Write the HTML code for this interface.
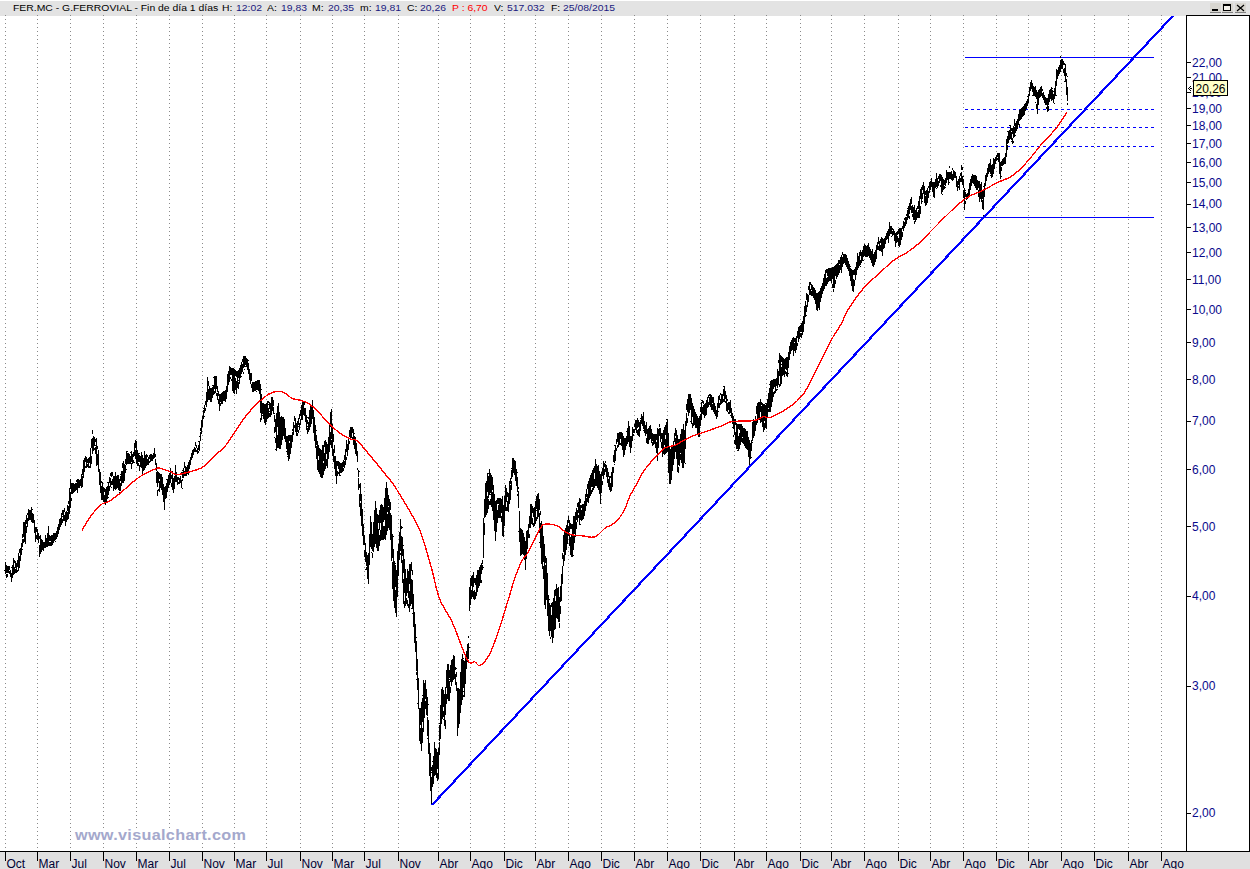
<!DOCTYPE html><html><head><meta charset="utf-8"><style>
html,body{margin:0;padding:0;width:1250px;height:869px;overflow:hidden;background:#fff;}
body{position:relative;font-family:"Liberation Sans",sans-serif;}
.t{position:absolute;white-space:nowrap;}
.n{color:#1a1a80}
</style></head><body>

<svg style="position:absolute;left:0;top:0" width="1250" height="869" viewBox="0 0 1250 869">
<defs><clipPath id="cp"><rect x="0" y="16" width="1186" height="835"/></clipPath></defs>
<rect x="0" y="1" width="1250" height="15" fill="#e3e3e3" shape-rendering="crispEdges"/>
<path d="M5.5 15V851M37.5 15V851M70.5 15V851M103.5 15V851M136.5 15V851M169.5 15V851M202.5 15V851M234.5 15V851M266.5 15V851M300.5 15V851M332.5 15V851M364.5 15V851M398.5 15V851M438.5 15V851M470.5 15V851M504.5 15V851M535.5 15V851M568.5 15V851M601.5 15V851M634.5 15V851M667.5 15V851M700.5 15V851M734.5 15V851M766.5 15V851M800.5 15V851M831.5 15V851M864.5 15V851M898.5 15V851M930.5 15V851M963.5 15V851M996.5 15V851M1028.5 15V851M1061.5 15V851M1094.5 15V851M1128.5 15V851M1161.5 15V851" stroke="#8a8a8a" stroke-width="1" stroke-dasharray="1 3" fill="none" shape-rendering="crispEdges"/>
<g shape-rendering="crispEdges">
<rect x="965" y="57" width="189" height="1" fill="#0000ff"/>
<rect x="965" y="217" width="189" height="1" fill="#0000ff"/>
<path d="M965 109.5H1154M965 127.5H1154M965 146.5H1154" stroke="#0000ff" stroke-width="1" stroke-dasharray="3 3" fill="none"/>
</g>
<g shape-rendering="crispEdges">
<path d="M5.5 562V574M6.5 565V578M7.5 566V577M8.5 566V573M9.5 566V574M10.5 570V577M11.5 573V582M12.5 565V578M13.5 558V575M14.5 560V574M15.5 561V573M16.5 563V573M17.5 560V572M18.5 553V571M19.5 549V568M20.5 548V561M21.5 543V554M22.5 534V547M23.5 522V543M24.5 522V541M25.5 520V544M26.5 515V533M27.5 513V527M28.5 509V521M29.5 511V520M30.5 510V520M31.5 507V522M32.5 513V523M33.5 514V523M34.5 520V533M35.5 527V542M36.5 527V539M37.5 529V540M38.5 533V543M39.5 536V557M40.5 535V554M41.5 539V552M42.5 540V550M43.5 542V551M44.5 542V548M45.5 535V548M46.5 538V547M47.5 533V547M48.5 526V546M49.5 535V546M50.5 536V546M51.5 535V546M52.5 535V545M53.5 533V543M54.5 533V541M55.5 533V540M56.5 531V539M57.5 527V537M58.5 524V534M59.5 519V530M60.5 518V527M61.5 513V525M62.5 510V523M63.5 510V521M64.5 508V521M65.5 512V526M66.5 511V522M67.5 505V520M68.5 501V519M69.5 488V514M70.5 479V508M71.5 484V501M72.5 483V494M73.5 483V493M74.5 484V492M75.5 483V491M76.5 480V490M77.5 479V493M78.5 479V488M79.5 480V488M80.5 479V486M81.5 474V488M82.5 469V487M83.5 460V478M84.5 458V472M85.5 456V468M86.5 457V468M87.5 459V467M88.5 458V468M89.5 457V468M90.5 448V468M91.5 439V464M92.5 430V454M93.5 436V451M94.5 437V450M95.5 439V454M96.5 438V466M97.5 446V465M98.5 450V472M99.5 469V485M100.5 472V493M101.5 481V500M102.5 482V500M103.5 487V502M104.5 488V503M105.5 489V505M106.5 487V502M107.5 486V499M108.5 482V495M109.5 477V491M110.5 473V487M111.5 472V485M112.5 472V485M113.5 476V491M114.5 476V489M115.5 472V490M116.5 476V489M117.5 475V488M118.5 475V490M119.5 479V494M120.5 476V491M121.5 471V486M122.5 463V483M123.5 461V483M124.5 464V481M125.5 459V473M126.5 451V465M127.5 453V464M128.5 453V464M129.5 454V464M130.5 456V464M131.5 451V469M132.5 454V464M133.5 452V463M134.5 443V456M135.5 440V459M136.5 441V464M137.5 450V466M138.5 453V466M139.5 455V471M140.5 456V467M141.5 452V468M142.5 455V476M143.5 458V471M144.5 451V470M145.5 455V468M146.5 454V466M147.5 455V465M148.5 457V465M149.5 455V463M150.5 454V462M151.5 454V461M152.5 455V461M153.5 453V459M154.5 448V458M155.5 454V465M156.5 463V483M157.5 471V496M158.5 472V491M159.5 473V492M160.5 474V488M161.5 474V490M162.5 478V495M163.5 484V502M164.5 487V510M165.5 486V499M166.5 483V497M167.5 479V492M168.5 475V488M169.5 473V484M170.5 468V483M171.5 475V487M172.5 471V490M173.5 479V493M174.5 476V489M175.5 465V482M176.5 472V482M177.5 477V484M178.5 477V484M179.5 478V484M180.5 476V483M181.5 472V488M182.5 472V481M183.5 468V478M184.5 462V476M185.5 466V476M186.5 467V476M187.5 465V474M188.5 462V475M189.5 460V469M190.5 457V465M191.5 453V460M192.5 450V457M193.5 449V455M194.5 447V452M195.5 442V452M196.5 445V452M197.5 448V454M198.5 445V453M199.5 441V451M200.5 428V441M201.5 420V434M202.5 416V427M203.5 410V419M204.5 405V413M205.5 401V411M206.5 392V407M207.5 377V402M208.5 381V400M209.5 386V400M210.5 388V402M211.5 388V402M212.5 387V398M213.5 385V395M214.5 376V394M215.5 376V393M216.5 376V396M217.5 386V400M218.5 391V404M219.5 394V411M220.5 394V406M221.5 393V404M222.5 392V404M223.5 391V401M224.5 391V401M225.5 390V402M226.5 386V399M227.5 374V392M228.5 371V385M229.5 366V382M230.5 367V379M231.5 368V381M232.5 368V391M233.5 368V393M234.5 369V394M235.5 370V390M236.5 371V394M237.5 371V388M238.5 370V389M239.5 368V384M240.5 365V378M241.5 362V374M242.5 359V372M243.5 356V374M244.5 356V367M245.5 356V365M246.5 358V367M247.5 359V370M248.5 363V374M249.5 369V380M250.5 374V384M251.5 373V388M252.5 382V392M253.5 382V392M254.5 382V391M255.5 381V391M256.5 381V390M257.5 380V390M258.5 380V391M259.5 380V394M260.5 384V422M261.5 394V420M262.5 403V414M263.5 403V419M264.5 404V423M265.5 404V425M266.5 403V422M267.5 401V419M268.5 401V418M269.5 402V417M270.5 403V417M271.5 397V415M272.5 397V411M273.5 400V414M274.5 415V433M275.5 419V443M276.5 413V451M277.5 406V448M278.5 403V448M279.5 412V449M280.5 417V449M281.5 416V445M282.5 417V440M283.5 417V436M284.5 419V439M285.5 428V442M286.5 436V449M287.5 436V455M288.5 435V461M289.5 435V459M290.5 435V454M291.5 435V448M292.5 429V442M293.5 422V435M294.5 416V428M295.5 418V432M296.5 423V436M297.5 421V436M298.5 418V433M299.5 414V430M300.5 410V425M301.5 405V420M302.5 400V420M303.5 401V415M304.5 402V416M305.5 408V422M306.5 415V430M307.5 420V434M308.5 417V432M309.5 410V430M310.5 407V427M311.5 406V424M312.5 400V419M313.5 410V433M314.5 417V441M315.5 425V448M316.5 435V459M317.5 441V470M318.5 445V472M319.5 448V474M320.5 449V476M321.5 450V478M322.5 445V478M323.5 445V475M324.5 441V471M325.5 440V469M326.5 442V466M327.5 444V468M328.5 437V459M329.5 425V452M330.5 412V445M331.5 409V448M332.5 424V456M333.5 434V462M334.5 445V469M335.5 456V476M336.5 461V484M337.5 461V476M338.5 461V474M339.5 462V476M340.5 463V473M341.5 463V473M342.5 462V472M343.5 460V471M344.5 455V468M345.5 449V465M346.5 440V460M347.5 444V456M348.5 439V450M349.5 430V444M350.5 427V440M351.5 427V438M352.5 427V440M353.5 429V444M354.5 436V449M355.5 437V454M356.5 443V456M357.5 451V470M358.5 471V490M359.5 484V507M360.5 483V516M361.5 494V526M362.5 509V536M363.5 524V545M364.5 535V557M365.5 543V562M366.5 552V570M367.5 555V579M368.5 553V584M369.5 534V565M370.5 516V547M371.5 522V549M372.5 534V558M373.5 522V552M374.5 510V547M375.5 501V544M376.5 508V548M377.5 514V551M378.5 515V551M379.5 510V546M380.5 505V541M381.5 504V540M382.5 505V540M383.5 507V540M384.5 498V539M385.5 488V540M386.5 482V535M387.5 488V531M388.5 495V528M389.5 499V530M390.5 502V540M391.5 515V561M392.5 534V589M393.5 549V601M394.5 561V608M395.5 565V613M396.5 570V617M397.5 551V597M398.5 544V576M399.5 532V560M400.5 519V555M401.5 526V563M402.5 537V583M403.5 549V604M404.5 559V608M405.5 569V606M406.5 578V604M407.5 569V606M408.5 571V608M409.5 564V612M410.5 564V606M411.5 562V604M412.5 570V609M413.5 594V627M414.5 612V643M415.5 624V652M416.5 641V675M417.5 659V690M418.5 678V709M419.5 708V741M420.5 708V744M421.5 702V751M422.5 698V743M423.5 680V732M424.5 683V718M425.5 680V709M426.5 689V715M427.5 697V736M428.5 720V754M429.5 743V776M430.5 753V791M431.5 767V804M432.5 765V787M433.5 756V784M434.5 742V776M435.5 748V775M436.5 749V778M437.5 752V781M438.5 748V779M439.5 725V755M440.5 705V739M441.5 689V724M442.5 687V719M443.5 690V717M444.5 694V726M445.5 687V729M446.5 670V704M447.5 664V699M448.5 664V701M449.5 670V701M450.5 665V693M451.5 660V686M452.5 659V682M453.5 655V680M454.5 656V679M455.5 667V685M456.5 672V691M457.5 688V736M458.5 688V728M459.5 689V724M460.5 672V713M461.5 659V705M462.5 654V700M463.5 660V697M464.5 661V697M465.5 656V684M466.5 651V669M467.5 644V662M468.5 636V659M469.5 587V611M470.5 578V605M471.5 576V599M472.5 575V597M473.5 572V599M474.5 578V600M475.5 578V599M476.5 575V596M477.5 570V592M478.5 570V588M479.5 567V586M480.5 565V583M481.5 563V583M482.5 560V570M483.5 518V558M484.5 499V535M485.5 483V517M486.5 481V515M487.5 473V513M488.5 476V509M489.5 469V505M490.5 473V505M491.5 475V507M492.5 477V511M493.5 485V520M494.5 494V531M495.5 501V541M496.5 500V532M497.5 498V523M498.5 498V518M499.5 498V518M500.5 498V518M501.5 499V522M502.5 496V536M503.5 505V537M504.5 496V526M505.5 485V511M506.5 488V511M507.5 492V511M508.5 493V512M509.5 481V504M510.5 478V500M511.5 470V490M512.5 458V477M513.5 458V473M514.5 460V475M515.5 461V481M516.5 469V486M517.5 477V496M518.5 487V508M519.5 511V542M520.5 528V556M521.5 529V555M522.5 530V554M523.5 533V555M524.5 537V560M525.5 541V570M526.5 531V559M527.5 530V549M528.5 524V538M529.5 516V538M530.5 504V528M531.5 504V524M532.5 506V525M533.5 508V527M534.5 507V526M535.5 501V524M536.5 496V521M537.5 494V519M538.5 493V517M539.5 499V533M540.5 511V548M541.5 521V564M542.5 526V569M543.5 536V579M544.5 544V605M545.5 556V609M546.5 558V600M547.5 573V616M548.5 595V631M549.5 603V636M550.5 605V639M551.5 603V637M552.5 602V643M553.5 598V638M554.5 590V630M555.5 589V629M556.5 584V618M557.5 588V619M558.5 587V622M559.5 597V628M560.5 586V614M561.5 574V601M562.5 554V584M563.5 535V566M564.5 531V561M565.5 528V555M566.5 525V550M567.5 520V544M568.5 516V536M569.5 520V546M570.5 523V555M571.5 524V557M572.5 524V557M573.5 516V550M574.5 516V543M575.5 512V537M576.5 508V529M577.5 504V522M578.5 502V518M579.5 498V525M580.5 499V520M581.5 505V521M582.5 504V520M583.5 504V519M584.5 501V516M585.5 494V511M586.5 489V506M587.5 484V502M588.5 481V503M589.5 478V498M590.5 475V496M591.5 473V494M592.5 470V492M593.5 468V490M594.5 466V488M595.5 459V486M596.5 464V486M597.5 466V488M598.5 465V490M599.5 471V494M600.5 474V504M601.5 472V493M602.5 468V485M603.5 461V479M604.5 463V475M605.5 461V472M606.5 465V477M607.5 468V483M608.5 472V487M609.5 476V490M610.5 476V492M611.5 472V491M612.5 467V487M613.5 455V473M614.5 450V463M615.5 445V461M616.5 439V451M617.5 433V448M618.5 433V447M619.5 432V445M620.5 432V445M621.5 432V446M622.5 433V450M623.5 436V457M624.5 438V455M625.5 438V450M626.5 436V446M627.5 428V444M628.5 421V442M629.5 426V447M630.5 436V453M631.5 436V448M632.5 427V441M633.5 429V436M634.5 424V433M635.5 420V430M636.5 420V433M637.5 418V435M638.5 420V436M639.5 422V437M640.5 420V431M641.5 414V424M642.5 416V426M643.5 412V429M644.5 421V433M645.5 425V436M646.5 422V443M647.5 429V444M648.5 428V444M649.5 426V440M650.5 425V439M651.5 429V443M652.5 433V446M653.5 434V445M654.5 434V444M655.5 434V448M656.5 434V453M657.5 428V461M658.5 429V448M659.5 424V436M660.5 428V442M661.5 433V448M662.5 433V457M663.5 430V454M664.5 427V455M665.5 425V454M666.5 422V453M667.5 419V452M668.5 433V473M669.5 447V484M670.5 449V484M671.5 447V480M672.5 445V471M673.5 441V465M674.5 433V459M675.5 428V452M676.5 430V459M677.5 435V472M678.5 439V473M679.5 439V466M680.5 434V460M681.5 429V463M682.5 429V468M683.5 424V468M684.5 430V463M685.5 421V449M686.5 404V426M687.5 399V422M688.5 394V416M689.5 394V413M690.5 394V410M691.5 399V424M692.5 403V428M693.5 406V426M694.5 409V425M695.5 412V428M696.5 414V428M697.5 416V435M698.5 418V437M699.5 416V437M700.5 407V426M701.5 402V420M702.5 400V414M703.5 401V415M704.5 404V418M705.5 403V416M706.5 400V415M707.5 397V408M708.5 395V407M709.5 394V405M710.5 394V407M711.5 395V410M712.5 397V410M713.5 397V412M714.5 403V414M715.5 406V416M716.5 410V419M717.5 403V417M718.5 396V408M719.5 395V408M720.5 393V405M721.5 394V404M722.5 394V403M723.5 389V402M724.5 386V402M725.5 391V403M726.5 395V410M727.5 399V412M728.5 402V414M729.5 402V413M730.5 400V413M731.5 408V418M732.5 413V424M733.5 416V437M734.5 419V444M735.5 419V445M736.5 423V449M737.5 424V449M738.5 424V451M739.5 424V449M740.5 424V445M741.5 424V442M742.5 426V443M743.5 428V444M744.5 428V446M745.5 429V448M746.5 431V449M747.5 431V450M748.5 437V456M749.5 440V466M750.5 443V459M751.5 440V451M752.5 422V441M753.5 419V438M754.5 420V436M755.5 416V431M756.5 406V425M757.5 403V423M758.5 402V420M759.5 402V420M760.5 399V423M761.5 402V422M762.5 403V427M763.5 404V432M764.5 404V430M765.5 405V428M766.5 403V429M767.5 399V417M768.5 394V412M769.5 388V412M770.5 381V412M771.5 380V407M772.5 380V402M773.5 379V397M774.5 379V394M775.5 379V393M776.5 378V391M777.5 369V388M778.5 360V385M779.5 353V387M780.5 355V386M781.5 356V384M782.5 357V376M783.5 358V375M784.5 359V377M785.5 358V374M786.5 357V376M787.5 357V377M788.5 352V368M789.5 346V360M790.5 342V354M791.5 340V351M792.5 338V350M793.5 337V356M794.5 338V351M795.5 338V353M796.5 336V350M797.5 331V346M798.5 327V342M799.5 326V339M800.5 325V337M801.5 323V338M802.5 321V335M803.5 316V332M804.5 306V324M805.5 301V317M806.5 293V312M807.5 294V307M808.5 286V301M809.5 282V295M810.5 282V295M811.5 284V295M812.5 285V296M813.5 287V298M814.5 288V300M815.5 290V304M816.5 293V310M817.5 294V311M818.5 292V308M819.5 291V310M820.5 288V302M821.5 286V298M822.5 283V294M823.5 278V291M824.5 274V289M825.5 270V286M826.5 269V285M827.5 269V284M828.5 268V282M829.5 268V281M830.5 268V280M831.5 268V283M832.5 267V288M833.5 267V292M834.5 266V288M835.5 265V283M836.5 264V279M837.5 263V277M838.5 260V275M839.5 260V273M840.5 257V270M841.5 255V273M842.5 252V267M843.5 254V264M844.5 254V263M845.5 254V265M846.5 255V267M847.5 258V269M848.5 261V271M849.5 264V276M850.5 268V281M851.5 269V286M852.5 270V291M853.5 270V292M854.5 269V286M855.5 267V280M856.5 262V275M857.5 253V270M858.5 256V268M859.5 252V266M860.5 250V265M861.5 252V263M862.5 250V260M863.5 246V257M864.5 244V256M865.5 245V257M866.5 246V257M867.5 245V257M868.5 243V256M869.5 247V258M870.5 249V260M871.5 251V263M872.5 249V266M873.5 254V267M874.5 252V265M875.5 250V262M876.5 245V259M877.5 242V250M878.5 237V250M879.5 241V251M880.5 239V251M881.5 237V252M882.5 238V256M883.5 239V249M884.5 239V248M885.5 236V243M886.5 233V240M887.5 231V239M888.5 229V243M889.5 222V236M890.5 226V234M891.5 226V234M892.5 228V236M893.5 229V235M894.5 231V240M895.5 233V247M896.5 232V243M897.5 231V242M898.5 229V246M899.5 228V247M900.5 228V244M901.5 229V240M902.5 226V237M903.5 221V231M904.5 218V228M905.5 217V226M906.5 214V224M907.5 210V220M908.5 206V217M909.5 203V219M910.5 199V210M911.5 197V213M912.5 205V217M913.5 207V220M914.5 205V224M915.5 210V222M916.5 208V220M917.5 206V218M918.5 201V218M919.5 196V218M920.5 189V214M921.5 187V204M922.5 185V199M923.5 182V194M924.5 186V202M925.5 191V206M926.5 190V205M927.5 188V203M928.5 186V198M929.5 183V193M930.5 181V190M931.5 178V187M932.5 182V192M933.5 182V197M934.5 182V198M935.5 179V188M936.5 173V187M937.5 178V188M938.5 176V186M939.5 174V183M940.5 174V187M941.5 175V194M942.5 177V192M943.5 179V190M944.5 180V189M945.5 178V186M946.5 170V183M947.5 172V180M948.5 172V185M949.5 166V179M950.5 172V179M951.5 171V180M952.5 168V180M953.5 170V180M954.5 171V178M955.5 172V178M956.5 176V187M957.5 181V191M958.5 179V188M959.5 176V190M960.5 173V182M961.5 165V182M962.5 167V185M963.5 179V198M964.5 188V210M965.5 192V204M966.5 194V200M967.5 193V199M968.5 189V197M969.5 183V195M970.5 179V190M971.5 176V186M972.5 174V183M973.5 175V184M974.5 175V186M975.5 175V188M976.5 176V190M977.5 180V190M978.5 181V196M979.5 181V202M980.5 184V199M981.5 182V202M982.5 190V209M983.5 191V217M984.5 183V197M985.5 175V186M986.5 173V181M987.5 168V177M988.5 164V174M989.5 163V172M990.5 159V174M991.5 165V178M992.5 164V177M993.5 158V174M994.5 159V169M995.5 157V164M996.5 155V161M997.5 153V160M998.5 154V162M999.5 153V174M1000.5 162V179M1001.5 161V171M1002.5 159V166M1003.5 158V165M1004.5 157V164M1005.5 153V164M1006.5 139V157M1007.5 136V150M1008.5 131V143M1009.5 130V140M1010.5 125V139M1011.5 128V140M1012.5 128V144M1013.5 126V143M1014.5 119V137M1015.5 123V133M1016.5 121V131M1017.5 119V129M1018.5 114V125M1019.5 110V127M1020.5 109V120M1021.5 108V119M1022.5 107V117M1023.5 106V116M1024.5 105V114M1025.5 103V111M1026.5 101V109M1027.5 99V106M1028.5 94V103M1029.5 87V96M1030.5 82V91M1031.5 80V89M1032.5 83V92M1033.5 87V96M1034.5 87V96M1035.5 86V97M1036.5 90V109M1037.5 92V114M1038.5 91V105M1039.5 89V98M1040.5 87V97M1041.5 86V96M1042.5 89V98M1043.5 92V100M1044.5 95V103M1045.5 97V105M1046.5 98V109M1047.5 98V112M1048.5 94V111M1049.5 90V102M1050.5 89V99M1051.5 87V101M1052.5 90V100M1053.5 94V103M1054.5 88V99M1055.5 81V96M1056.5 69V86M1057.5 70V79M1058.5 67V76M1059.5 65V74M1060.5 56V72M1061.5 59V69M1062.5 59V69M1063.5 61V73M1064.5 63V76M1065.5 64V82M1066.5 73V95M1067.5 87V105" stroke="#000" stroke-width="1" fill="none"/>
<path d="M6.5 573V574M7.5 573V574M9.5 570V571M14.5 563V567M15.5 568V569M17.5 567V570M19.5 553V556M22.5 538V539M23.5 537V539M26.5 524V526M27.5 515V518M36.5 532V535M39.5 539V545M49.5 541V542M50.5 541V542M62.5 515V519M64.5 512V515M67.5 511V512M68.5 504V506M70.5 489V492M71.5 494V498M76.5 482V483M82.5 475V476M85.5 462V466M87.5 463V464M88.5 465V466M89.5 463V466M91.5 448V456M92.5 434V438M94.5 446V448M95.5 442V447M97.5 449V454M101.5 483V486M104.5 492V495M109.5 483V486M110.5 476V478M111.5 477V481M112.5 476V479M119.5 491V492M120.5 481V483M122.5 468V471M125.5 464V465M131.5 462V463M133.5 457V460M135.5 448V450M138.5 462V463M139.5 462V465M147.5 457V459M149.5 459V461M155.5 457V459M156.5 471V472M157.5 487V490M158.5 483V489M159.5 479V481M171.5 479V483M178.5 480V482M181.5 475V480M182.5 478V479M184.5 468V471M195.5 446V448M196.5 448V450M198.5 449V451M200.5 431V432M205.5 405V408M208.5 386V389M214.5 389V391M216.5 388V393M217.5 392V393M218.5 396V399M220.5 402V403M222.5 394V395M230.5 375V377M231.5 375V379M235.5 376V378M236.5 377V381M238.5 378V382M242.5 362V364M243.5 368V372M251.5 381V384M260.5 413V418M268.5 403V408M269.5 409V413M270.5 410V411M273.5 406V407M274.5 422V427M275.5 432V438M277.5 427V435M289.5 441V443M292.5 431V432M294.5 421V425M297.5 432V433M298.5 425V430M299.5 419V423M300.5 416V419M304.5 405V408M307.5 424V428M308.5 419V422M316.5 445V446M318.5 456V460M323.5 461V463M324.5 447V453M326.5 454V459M330.5 427V432M331.5 439V440M333.5 442V449M334.5 453V456M337.5 466V471M338.5 469V472M343.5 467V468M344.5 460V461M346.5 452V457M349.5 437V441M352.5 433V437M357.5 462V468M358.5 477V478M359.5 488V494M360.5 501V503M364.5 545V550M366.5 566V567M372.5 551V553M378.5 523V529M379.5 530V535M380.5 523V530M383.5 522V526M384.5 520V526M387.5 512V514M388.5 506V507M390.5 510V513M392.5 558V562M395.5 587V590M400.5 551V553M401.5 529V536M402.5 556V560M403.5 573V579M404.5 593V601M406.5 596V598M407.5 593V600M408.5 598V604M409.5 584V591M411.5 571V579M412.5 575V580M416.5 671V672M420.5 725V728M422.5 722V728M425.5 699V701M427.5 716V717M431.5 771V777M437.5 769V773M439.5 741V742M443.5 707V711M445.5 715V720M446.5 688V694M449.5 678V681M450.5 682V687M455.5 670V674M456.5 677V682M463.5 688V695M468.5 638V643M471.5 586V590M473.5 587V591M474.5 583V590M475.5 585V592M481.5 574V580M482.5 564V565M484.5 518V523M487.5 492V496M488.5 498V499M489.5 495V501M490.5 493V499M492.5 490V492M497.5 504V510M498.5 504V505M501.5 513V516M506.5 502V507M507.5 497V501M510.5 484V485M511.5 479V481M517.5 492V494M518.5 489V491M529.5 528V534M532.5 513V518M533.5 517V523M536.5 509V517M539.5 510V513M540.5 515V523M543.5 562V566M545.5 563V565M550.5 631V637M551.5 607V615M555.5 596V601M559.5 622V623M560.5 602V606M562.5 559V566M563.5 552V555M565.5 531V533M568.5 523V526M569.5 532V533M570.5 529V537M571.5 529V535M574.5 533V536M576.5 520V522M577.5 507V510M578.5 513V515M580.5 503V505M581.5 508V510M586.5 497V498M587.5 489V494M591.5 487V490M592.5 487V488M594.5 473V479M602.5 476V481M604.5 467V469M605.5 463V465M608.5 477V479M610.5 478V483M613.5 462V467M616.5 444V448M617.5 442V445M620.5 439V443M633.5 433V434M634.5 427V429M637.5 428V430M638.5 427V429M646.5 434V438M652.5 441V442M656.5 440V442M659.5 427V428M661.5 439V442M664.5 445V447M665.5 435V439M674.5 442V446M675.5 436V438M678.5 465V467M680.5 453V454M686.5 410V413M687.5 412V418M692.5 417V423M700.5 412V414M702.5 403V407M703.5 404V406M708.5 398V402M709.5 396V397M712.5 403V404M714.5 411V412M719.5 400V403M720.5 395V399M723.5 396V399M725.5 399V401M727.5 401V403M728.5 410V412M733.5 429V435M734.5 435V440M735.5 425V432M738.5 429V436M739.5 430V433M742.5 437V438M756.5 414V419M760.5 412V419M761.5 405V406M764.5 421V423M768.5 407V409M773.5 389V392M774.5 386V391M775.5 390V391M776.5 386V389M778.5 363V371M779.5 376V384M781.5 362V367M785.5 369V371M786.5 370V372M794.5 342V343M797.5 338V343M800.5 332V333M801.5 332V333M806.5 300V305M808.5 290V295M809.5 287V288M810.5 285V289M811.5 290V291M826.5 273V278M827.5 276V277M832.5 279V284M833.5 288V289M835.5 276V280M839.5 264V265M842.5 255V257M853.5 275V279M854.5 275V280M860.5 256V260M878.5 244V246M880.5 243V245M892.5 230V231M897.5 235V236M898.5 234V238M902.5 229V232M904.5 220V222M906.5 216V217M909.5 214V216M911.5 204V206M912.5 213V214M914.5 220V221M917.5 209V212M918.5 209V210M920.5 199V206M922.5 190V193M925.5 195V196M928.5 188V191M938.5 179V181M940.5 181V185M944.5 185V186M949.5 168V172M950.5 176V177M952.5 170V174M958.5 184V186M960.5 175V178M961.5 170V172M962.5 170V176M963.5 188V190M964.5 199V200M965.5 197V201M978.5 188V190M982.5 199V200M983.5 210V215M997.5 157V158M1001.5 166V167M1007.5 144V145M1011.5 131V132M1012.5 134V138M1013.5 138V141M1014.5 126V127M1019.5 121V124M1036.5 99V104M1042.5 91V94M1046.5 105V107M1048.5 105V106M1060.5 58V60M1063.5 65V69M1064.5 65V68M1066.5 76V79M1067.5 101V103" stroke="#fff" stroke-width="1" fill="none"/>
<path d="M4 570.5h1M5 568.5h1M8 568.5h1M9 571.5h1M11 567.5h1M16 566.5h1M18 570.5h1M19 567.5h1M21 554.5h1M22 549.5h1M21 544.5h1M24 541.5h1M26 532.5h1M25 525.5h1M28 516.5h1M29 510.5h1M30 512.5h1M31 513.5h1M32 509.5h1M33 521.5h1M36 530.5h1M41 540.5h1M44 544.5h1M43 543.5h1M45 542.5h1M46 539.5h1M49 542.5h1M48 542.5h1M50 536.5h1M51 543.5h1M55 541.5h1M55 538.5h1M59 526.5h1M62 516.5h1M63 520.5h1M67 518.5h1M69 504.5h1M71 485.5h1M71 483.5h1M74 486.5h1M77 484.5h1M79 481.5h1M79 484.5h1M80 482.5h1M81 476.5h1M83 465.5h1M84 464.5h1M89 461.5h1M88 465.5h1M93 440.5h1M92 451.5h1M95 445.5h1M96 441.5h1M97 446.5h1M98 462.5h1M98 469.5h1M102 491.5h1M101 493.5h1M104 500.5h1M105 496.5h1M108 497.5h1M107 482.5h1M110 480.5h1M111 487.5h1M110 475.5h1M115 485.5h1M115 480.5h1M118 484.5h1M119 489.5h1M121 477.5h1M120 474.5h1M123 471.5h1M126 469.5h1M127 451.5h1M126 457.5h1M130 463.5h1M130 452.5h1M131 455.5h1M134 462.5h1M135 444.5h1M136 449.5h1M136 463.5h1M139 453.5h1M141 460.5h1M142 465.5h1M145 458.5h1M144 463.5h1M152 458.5h1M153 456.5h1M154 456.5h1M158 479.5h1M162 477.5h1M163 500.5h1M166 497.5h1M166 479.5h1M169 484.5h1M168 475.5h1M172 485.5h1M173 478.5h1M174 479.5h1M173 487.5h1M178 483.5h1M177 484.5h1M180 480.5h1M182 488.5h1M182 470.5h1M186 475.5h1M185 473.5h1M186 469.5h1M187 470.5h1M189 462.5h1M192 457.5h1M194 451.5h1M193 450.5h1M194 447.5h1M195 445.5h1M198 449.5h1M198 441.5h1M199 436.5h1M201 426.5h1M204 416.5h1M203 408.5h1M210 392.5h1M210 396.5h1M211 391.5h1M212 385.5h1M213 377.5h1M215 388.5h1M216 388.5h1M219 396.5h1M219 402.5h1M222 394.5h1M223 393.5h1M224 399.5h1M227 391.5h1M228 374.5h1M227 377.5h1M238 374.5h1M238 380.5h1M241 376.5h1M243 364.5h1M244 369.5h1M245 366.5h1M248 360.5h1M250 373.5h1M251 386.5h1M254 385.5h1M255 385.5h1M256 391.5h1M257 388.5h1M260 387.5h1M261 389.5h1M260 394.5h1M261 405.5h1M262 415.5h1M265 421.5h1M265 410.5h1M269 411.5h1M268 404.5h1M270 410.5h1M271 405.5h1M274 413.5h1M274 437.5h1M275 449.5h1M280 445.5h1M283 425.5h1M284 429.5h1M286 451.5h1M287 456.5h1M288 443.5h1M289 439.5h1M291 439.5h1M298 426.5h1M301 411.5h1M302 413.5h1M303 407.5h1M302 405.5h1M305 411.5h1M304 411.5h1M307 426.5h1M307 417.5h1M310 418.5h1M310 406.5h1M316 430.5h1M318 466.5h1M317 459.5h1M318 460.5h1M320 476.5h1M321 473.5h1M323 464.5h1M326 444.5h1M326 460.5h1M327 446.5h1M332 439.5h1M340 475.5h1M339 468.5h1M340 468.5h1M342 468.5h1M345 456.5h1M348 445.5h1M347 445.5h1M348 443.5h1M354 433.5h1M353 444.5h1M356 450.5h1M358 470.5h1M359 471.5h1M360 503.5h1M361 501.5h1M361 521.5h1M364 539.5h1M365 553.5h1M366 553.5h1M365 569.5h1M368 569.5h1M370 546.5h1M371 552.5h1M374 521.5h1M377 519.5h1M378 535.5h1M382 526.5h1M383 528.5h1M384 535.5h1M385 502.5h1M385 500.5h1M386 528.5h1M387 501.5h1M388 516.5h1M389 506.5h1M390 518.5h1M393 536.5h1M394 561.5h1M395 563.5h1M396 594.5h1M398 570.5h1M397 555.5h1M400 549.5h1M399 541.5h1M402 527.5h1M403 545.5h1M404 574.5h1M403 587.5h1M404 592.5h1M407 586.5h1M406 580.5h1M407 590.5h1M408 593.5h1M411 608.5h1M412 613.5h1M416 637.5h1M416 679.5h1M417 703.5h1M420 740.5h1M420 712.5h1M423 710.5h1M422 695.5h1M423 702.5h1M424 685.5h1M428 704.5h1M427 738.5h1M431 784.5h1M431 772.5h1M432 761.5h1M435 753.5h1M436 774.5h1M436 775.5h1M437 762.5h1M440 731.5h1M439 723.5h1M440 717.5h1M441 705.5h1M444 700.5h1M443 719.5h1M447 697.5h1M448 677.5h1M449 679.5h1M456 668.5h1M455 675.5h1M457 709.5h1M460 711.5h1M459 710.5h1M463 658.5h1M464 676.5h1M463 691.5h1M468 655.5h1M469 647.5h1M470 597.5h1M472 584.5h1M477 587.5h1M480 573.5h1M483 567.5h1M485 509.5h1M484 501.5h1M488 473.5h1M487 497.5h1M490 494.5h1M492 506.5h1M497 515.5h1M498 502.5h1M499 509.5h1M500 509.5h1M505 496.5h1M506 498.5h1M505 496.5h1M508 511.5h1M511 468.5h1M512 462.5h1M513 470.5h1M514 461.5h1M517 472.5h1M517 489.5h1M518 531.5h1M522 539.5h1M524 549.5h1M527 552.5h1M529 537.5h1M532 522.5h1M531 522.5h1M534 509.5h1M535 511.5h1M536 510.5h1M537 516.5h1M538 498.5h1M539 505.5h1M539 542.5h1M543 544.5h1M549 599.5h1M549 634.5h1M553 623.5h1M553 611.5h1M556 605.5h1M555 603.5h1M556 600.5h1M560 601.5h1M559 608.5h1M561 581.5h1M562 553.5h1M566 549.5h1M568 527.5h1M567 522.5h1M570 540.5h1M573 555.5h1M574 533.5h1M573 540.5h1M576 512.5h1M575 523.5h1M577 503.5h1M580 524.5h1M581 519.5h1M580 513.5h1M583 512.5h1M583 504.5h1M584 501.5h1M585 505.5h1M586 500.5h1M587 500.5h1M588 483.5h1M589 482.5h1M590 479.5h1M593 486.5h1M592 488.5h1M595 481.5h1M597 484.5h1M599 483.5h1M600 474.5h1M605 464.5h1M605 468.5h1M609 484.5h1M609 481.5h1M610 483.5h1M614 464.5h1M614 445.5h1M615 447.5h1M616 441.5h1M621 442.5h1M623 450.5h1M622 445.5h1M624 445.5h1M626 431.5h1M629 426.5h1M630 447.5h1M630 448.5h1M637 426.5h1M639 430.5h1M640 418.5h1M643 430.5h1M646 426.5h1M646 430.5h1M649 438.5h1M650 434.5h1M653 442.5h1M653 441.5h1M658 430.5h1M661 436.5h1M662 438.5h1M661 436.5h1M664 440.5h1M665 443.5h1M665 449.5h1M666 419.5h1M669 453.5h1M669 455.5h1M670 475.5h1M671 465.5h1M673 451.5h1M680 455.5h1M681 429.5h1M682 465.5h1M685 463.5h1M687 422.5h1M691 398.5h1M690 421.5h1M691 417.5h1M693 416.5h1M694 422.5h1M696 418.5h1M701 407.5h1M701 400.5h1M704 412.5h1M703 405.5h1M706 407.5h1M709 398.5h1M710 403.5h1M714 405.5h1M713 409.5h1M714 411.5h1M717 416.5h1M718 411.5h1M718 400.5h1M719 399.5h1M722 395.5h1M723 386.5h1M724 400.5h1M726 410.5h1M729 413.5h1M731 411.5h1M730 415.5h1M732 427.5h1M735 436.5h1M737 430.5h1M736 442.5h1M737 450.5h1M740 440.5h1M741 427.5h1M744 435.5h1M745 429.5h1M744 439.5h1M748 438.5h1M748 456.5h1M751 457.5h1M752 442.5h1M753 425.5h1M753 428.5h1M756 410.5h1M761 407.5h1M761 418.5h1M764 408.5h1M763 422.5h1M765 403.5h1M768 407.5h1M769 410.5h1M768 393.5h1M769 384.5h1M771 389.5h1M772 384.5h1M775 390.5h1M774 386.5h1M777 389.5h1M779 360.5h1M780 378.5h1M781 364.5h1M784 365.5h1M785 372.5h1M788 373.5h1M791 342.5h1M792 345.5h1M791 342.5h1M794 347.5h1M795 350.5h1M803 317.5h1M806 315.5h1M808 301.5h1M810 293.5h1M809 287.5h1M811 295.5h1M812 287.5h1M815 298.5h1M814 294.5h1M817 293.5h1M816 301.5h1M821 288.5h1M820 292.5h1M821 289.5h1M824 284.5h1M823 284.5h1M826 285.5h1M825 276.5h1M830 280.5h1M831 274.5h1M832 272.5h1M833 272.5h1M834 282.5h1M835 283.5h1M835 275.5h1M838 274.5h1M837 269.5h1M838 261.5h1M840 264.5h1M841 255.5h1M844 255.5h1M843 254.5h1M846 265.5h1M850 266.5h1M852 275.5h1M852 276.5h1M857 268.5h1M860 266.5h1M861 258.5h1M862 260.5h1M863 260.5h1M862 257.5h1M865 246.5h1M867 245.5h1M870 250.5h1M871 251.5h1M870 258.5h1M873 258.5h1M877 247.5h1M880 246.5h1M881 242.5h1M880 250.5h1M881 245.5h1M885 243.5h1M884 238.5h1M885 236.5h1M888 237.5h1M888 235.5h1M892 231.5h1M891 236.5h1M892 229.5h1M894 240.5h1M895 240.5h1M896 236.5h1M900 244.5h1M901 228.5h1M902 228.5h1M905 222.5h1M906 223.5h1M905 218.5h1M908 217.5h1M907 208.5h1M909 204.5h1M910 205.5h1M915 214.5h1M916 214.5h1M917 206.5h1M919 201.5h1M922 201.5h1M922 187.5h1M925 202.5h1M924 202.5h1M926 198.5h1M929 182.5h1M930 182.5h1M933 185.5h1M936 188.5h1M939 174.5h1M942 194.5h1M943 185.5h1M945 187.5h1M948 180.5h1M949 182.5h1M951 177.5h1M950 176.5h1M951 175.5h1M952 180.5h1M958 184.5h1M957 181.5h1M958 187.5h1M961 176.5h1M960 175.5h1M963 176.5h1M965 190.5h1M969 192.5h1M970 183.5h1M972 178.5h1M972 180.5h1M973 181.5h1M974 183.5h1M977 186.5h1M979 194.5h1M978 196.5h1M981 190.5h1M980 191.5h1M983 186.5h1M986 175.5h1M988 169.5h1M989 164.5h1M990 167.5h1M991 174.5h1M990 175.5h1M991 172.5h1M994 166.5h1M995 163.5h1M997 158.5h1M998 153.5h1M999 155.5h1M1001 176.5h1M1001 163.5h1M1005 159.5h1M1004 159.5h1M1006 147.5h1M1007 131.5h1M1008 139.5h1M1009 125.5h1M1010 129.5h1M1011 141.5h1M1015 135.5h1M1019 110.5h1M1022 111.5h1M1024 114.5h1M1024 104.5h1M1027 96.5h1M1028 95.5h1M1031 83.5h1M1030 87.5h1M1033 86.5h1M1032 95.5h1M1033 87.5h1M1036 97.5h1M1035 102.5h1M1038 90.5h1M1042 93.5h1M1042 94.5h1M1044 97.5h1M1047 99.5h1M1048 102.5h1M1050 90.5h1M1051 90.5h1M1052 88.5h1M1053 91.5h1M1054 103.5h1M1055 94.5h1M1056 95.5h1M1055 86.5h1M1058 70.5h1M1058 69.5h1M1062 68.5h1M1065 75.5h1M1064 81.5h1M1067 76.5h1M1066 87.5h1" stroke="#000" stroke-width="1" fill="none"/>
</g>
<path d="M82.1 530.5C83.2 528.6 85.7 523.2 88.7 519.0C91.7 514.8 96.8 508.2 100.2 505.2C103.7 502.2 105.9 503.2 109.4 501.1C112.9 499.0 116.4 496.2 121.0 492.5C125.6 488.8 132.4 482.1 137.0 478.7C141.6 475.2 145.0 473.6 148.5 471.8C152.0 470.0 155.9 468.7 157.8 468.1C159.7 467.5 157.8 467.6 160.0 468.2C162.2 468.8 168.3 470.8 171.0 471.9C173.7 473.0 173.3 474.6 176.1 474.7C178.9 474.8 183.2 473.6 187.6 472.4C192.0 471.2 197.8 470.1 202.4 467.3C207.0 464.5 211.1 459.0 215.0 455.3C218.9 451.6 220.9 451.5 226.0 445.0C231.1 438.5 239.3 424.2 245.6 416.3C251.9 408.4 259.3 401.4 264.0 397.4C268.7 393.4 270.6 393.0 273.8 392.1C277.0 391.2 279.9 390.9 283.0 392.0C286.1 393.1 288.8 396.8 292.2 398.4C295.6 399.9 300.0 399.8 303.7 401.3C307.4 402.8 309.9 403.9 314.1 407.6C318.3 411.3 324.7 419.4 329.0 423.7C333.3 428.0 336.4 430.6 340.0 433.2C343.6 435.8 347.5 437.8 350.4 439.0C353.3 440.2 354.8 438.9 357.3 440.7C359.8 442.5 362.1 446.1 365.3 449.9C368.6 453.7 373.4 459.5 376.8 463.7C380.2 467.9 383.5 472.1 386.0 475.2C388.5 478.3 389.5 478.8 391.8 482.1C394.1 485.4 395.7 487.6 400.0 494.8C404.3 502.0 413.4 516.7 417.6 525.2C421.8 533.7 422.5 538.1 425.0 545.8C427.5 553.5 429.9 562.7 432.4 571.6C434.8 580.5 436.3 590.6 439.7 599.2C443.1 607.8 448.0 613.0 452.6 623.1C457.2 633.2 463.7 653.5 467.4 660.0C471.1 666.5 472.6 660.9 474.7 661.8C476.8 662.7 477.7 666.7 480.2 665.5C482.7 664.3 486.4 660.2 489.5 654.4C492.6 648.6 495.6 639.4 498.7 630.5C501.8 621.6 505.1 609.9 507.9 601.0C510.6 592.1 512.8 583.9 515.2 577.1C517.6 570.4 520.0 564.5 522.1 560.5C524.2 556.5 524.6 558.4 527.6 553.1C530.6 547.8 537.0 533.8 540.0 528.9C543.0 524.0 542.9 524.5 545.9 524.0C548.9 523.5 555.3 525.1 558.3 526.2C561.3 527.3 561.5 529.3 563.8 530.8C566.1 532.2 569.0 534.1 572.1 534.9C575.2 535.7 579.0 535.4 582.2 535.8C585.4 536.2 588.9 537.2 591.4 537.2C593.9 537.2 594.7 537.3 597.0 535.8C599.3 534.3 602.6 529.9 605.2 528.0C607.8 526.1 610.1 526.1 612.6 524.3C615.1 522.5 617.9 519.8 620.0 517.0C622.1 514.2 624.0 511.0 625.5 507.8C627.0 504.6 627.7 501.0 629.2 497.6C630.7 494.2 632.2 491.9 634.7 487.5C637.2 483.1 640.2 476.3 643.9 470.9C647.6 465.5 653.5 459.0 657.1 455.2C660.7 451.4 662.1 449.5 665.2 447.8C668.3 446.1 671.5 446.7 675.6 444.9C679.7 443.1 684.3 439.6 690.0 437.1C695.7 434.7 704.2 432.1 709.6 430.2C715.0 428.3 718.6 427.0 722.2 425.6C725.8 424.2 726.0 422.5 731.4 421.6C736.8 420.8 749.0 421.4 754.4 420.5C759.8 419.6 760.9 416.9 763.6 416.4C766.3 415.9 766.1 419.0 770.6 417.3C775.1 415.6 785.1 410.1 790.4 406.4C795.7 402.7 799.0 399.5 802.5 395.2C806.0 390.9 807.9 386.4 811.1 380.5C814.3 374.6 818.0 366.7 821.5 359.8C825.0 352.9 828.6 344.9 831.8 339.1C834.9 333.4 837.5 330.5 840.4 325.3C843.3 320.1 845.4 314.1 849.1 308.0C852.9 301.9 857.8 294.9 862.9 289.0C868.0 283.1 874.7 277.5 880.0 272.6C885.3 267.7 890.0 263.2 894.5 259.8C899.0 256.4 902.9 255.3 907.1 252.4C911.3 249.5 915.6 246.3 919.8 242.6C923.9 238.9 926.6 235.4 932.0 230.0C937.4 224.6 947.0 214.9 952.2 209.9C957.4 204.9 960.1 202.7 963.3 200.2C966.5 197.7 968.4 196.7 971.6 195.1C974.8 193.5 978.2 192.7 982.6 190.5C987.0 188.3 993.7 184.4 998.3 182.2C1002.9 180.0 1006.5 179.2 1010.0 177.2C1013.5 175.2 1016.0 173.0 1019.2 170.0C1022.5 167.0 1025.9 163.2 1029.5 159.1C1033.1 155.0 1036.2 150.4 1040.6 145.3C1045.0 140.2 1051.4 134.2 1055.8 128.7C1060.2 123.2 1065.0 115.0 1066.8 112.2" stroke="#ff0000" stroke-width="1.35" fill="none" shape-rendering="crispEdges"/>
<line x1="432" y1="805" x2="1173.8" y2="15" stroke="#0000ff" stroke-width="2.2" stroke-linecap="butt" shape-rendering="crispEdges" clip-path="url(#cp)"/>
<g shape-rendering="crispEdges">
<rect x="0" y="852" width="1250" height="17" fill="#e0e0e0"/>
<rect x="0" y="851" width="1250" height="1" fill="#000"/>
<rect x="5" y="852" width="1" height="9" fill="#000"/>
<rect x="37" y="852" width="1" height="9" fill="#000"/>
<rect x="70" y="852" width="1" height="9" fill="#000"/>
<rect x="103" y="852" width="1" height="9" fill="#000"/>
<rect x="136" y="852" width="1" height="9" fill="#000"/>
<rect x="169" y="852" width="1" height="9" fill="#000"/>
<rect x="202" y="852" width="1" height="9" fill="#000"/>
<rect x="234" y="852" width="1" height="9" fill="#000"/>
<rect x="266" y="852" width="1" height="9" fill="#000"/>
<rect x="300" y="852" width="1" height="9" fill="#000"/>
<rect x="332" y="852" width="1" height="9" fill="#000"/>
<rect x="364" y="852" width="1" height="9" fill="#000"/>
<rect x="398" y="852" width="1" height="9" fill="#000"/>
<rect x="438" y="852" width="1" height="9" fill="#000"/>
<rect x="470" y="852" width="1" height="9" fill="#000"/>
<rect x="504" y="852" width="1" height="9" fill="#000"/>
<rect x="535" y="852" width="1" height="9" fill="#000"/>
<rect x="568" y="852" width="1" height="9" fill="#000"/>
<rect x="601" y="852" width="1" height="9" fill="#000"/>
<rect x="634" y="852" width="1" height="9" fill="#000"/>
<rect x="667" y="852" width="1" height="9" fill="#000"/>
<rect x="700" y="852" width="1" height="9" fill="#000"/>
<rect x="734" y="852" width="1" height="9" fill="#000"/>
<rect x="766" y="852" width="1" height="9" fill="#000"/>
<rect x="800" y="852" width="1" height="9" fill="#000"/>
<rect x="831" y="852" width="1" height="9" fill="#000"/>
<rect x="864" y="852" width="1" height="9" fill="#000"/>
<rect x="898" y="852" width="1" height="9" fill="#000"/>
<rect x="930" y="852" width="1" height="9" fill="#000"/>
<rect x="963" y="852" width="1" height="9" fill="#000"/>
<rect x="996" y="852" width="1" height="9" fill="#000"/>
<rect x="1028" y="852" width="1" height="9" fill="#000"/>
<rect x="1061" y="852" width="1" height="9" fill="#000"/>
<rect x="1094" y="852" width="1" height="9" fill="#000"/>
<rect x="1128" y="852" width="1" height="9" fill="#000"/>
<rect x="1161" y="852" width="1" height="9" fill="#000"/>
<rect x="1186" y="15" width="64" height="836" fill="#fff"/>
<rect x="1186" y="15" width="64" height="1" fill="#000"/>
<rect x="1186" y="15" width="1" height="837" fill="#000"/>
<rect x="1249" y="15" width="1" height="837" fill="#000"/>
<rect x="1187" y="62" width="4" height="1" fill="#000"/>
<rect x="1187" y="77" width="4" height="1" fill="#000"/>
<rect x="1187" y="92" width="4" height="1" fill="#000"/>
<rect x="1187" y="108" width="4" height="1" fill="#000"/>
<rect x="1187" y="125" width="4" height="1" fill="#000"/>
<rect x="1187" y="143" width="4" height="1" fill="#000"/>
<rect x="1187" y="162" width="4" height="1" fill="#000"/>
<rect x="1187" y="182" width="4" height="1" fill="#000"/>
<rect x="1187" y="204" width="4" height="1" fill="#000"/>
<rect x="1187" y="227" width="4" height="1" fill="#000"/>
<rect x="1187" y="252" width="4" height="1" fill="#000"/>
<rect x="1187" y="279" width="4" height="1" fill="#000"/>
<rect x="1187" y="309" width="4" height="1" fill="#000"/>
<rect x="1187" y="342" width="4" height="1" fill="#000"/>
<rect x="1187" y="379" width="4" height="1" fill="#000"/>
<rect x="1187" y="421" width="4" height="1" fill="#000"/>
<rect x="1187" y="469" width="4" height="1" fill="#000"/>
<rect x="1187" y="526" width="4" height="1" fill="#000"/>
<rect x="1187" y="596" width="4" height="1" fill="#000"/>
<rect x="1187" y="686" width="4" height="1" fill="#000"/>
<rect x="1187" y="813" width="4" height="1" fill="#000"/>
</g>
</svg>
<div class="t" style="left:12.8px;top:1px;font-size:9.6px;line-height:14px;color:#000;transform:scaleX(1.083);transform-origin:0 0">FER.MC - G.FERROVIAL - Fin de día 1 días</div>
<div class="t" style="left:222.2px;top:1px;font-size:9.6px;line-height:14px;color:#000;transform:scaleX(1.083);transform-origin:0 0">H:</div>
<div class="t" style="left:236.3px;top:1px;font-size:9.6px;line-height:14px;color:#1a1a80;transform:scaleX(1.083);transform-origin:0 0">12:02</div>
<div class="t" style="left:267.0px;top:1px;font-size:9.6px;line-height:14px;color:#000;transform:scaleX(1.083);transform-origin:0 0">A:</div>
<div class="t" style="left:281.1px;top:1px;font-size:9.6px;line-height:14px;color:#1a1a80;transform:scaleX(1.083);transform-origin:0 0">19,83</div>
<div class="t" style="left:312.3px;top:1px;font-size:9.6px;line-height:14px;color:#000;transform:scaleX(1.083);transform-origin:0 0">M:</div>
<div class="t" style="left:327.7px;top:1px;font-size:9.6px;line-height:14px;color:#1a1a80;transform:scaleX(1.083);transform-origin:0 0">20,35</div>
<div class="t" style="left:359.7px;top:1px;font-size:9.6px;line-height:14px;color:#000;transform:scaleX(1.083);transform-origin:0 0">m:</div>
<div class="t" style="left:375.0px;top:1px;font-size:9.6px;line-height:14px;color:#1a1a80;transform:scaleX(1.083);transform-origin:0 0">19,81</div>
<div class="t" style="left:406.5px;top:1px;font-size:9.6px;line-height:14px;color:#000;transform:scaleX(1.083);transform-origin:0 0">C:</div>
<div class="t" style="left:419.8px;top:1px;font-size:9.6px;line-height:14px;color:#1a1a80;transform:scaleX(1.083);transform-origin:0 0">20,26</div>
<div class="t" style="left:451.8px;top:1px;font-size:9.6px;line-height:14px;color:#ff0000;transform:scaleX(1.083);transform-origin:0 0">P : 6,70</div>
<div class="t" style="left:493.5px;top:1px;font-size:9.6px;line-height:14px;color:#000;transform:scaleX(1.083);transform-origin:0 0">V:</div>
<div class="t" style="left:506.9px;top:1px;font-size:9.6px;line-height:14px;color:#1a1a80;transform:scaleX(1.083);transform-origin:0 0">517.032</div>
<div class="t" style="left:550.9px;top:1px;font-size:9.6px;line-height:14px;color:#000;transform:scaleX(1.083);transform-origin:0 0">F:</div>
<div class="t" style="left:563.2px;top:1px;font-size:9.6px;line-height:14px;color:#1a1a80;transform:scaleX(1.083);transform-origin:0 0">25/08/2015</div>
<svg style="position:absolute;left:1208px;top:2px" width="40" height="13" viewBox="1208 2 40 13" shape-rendering="crispEdges">
<rect x="1210" y="3" width="11" height="10" fill="#d8d6d0"/><rect x="1210" y="12" width="11" height="1" fill="#808080"/><rect x="1212" y="9" width="6" height="2" fill="#000"/>
<rect x="1222" y="3" width="11" height="10" fill="#d8d6d0"/><rect x="1222" y="12" width="11" height="1" fill="#808080"/><rect x="1223" y="4" width="8" height="7" fill="#000"/><rect x="1224" y="6" width="6" height="4" fill="#f4f2ec"/>
<rect x="1235" y="3" width="11" height="10" fill="#d8d6d0"/><rect x="1235" y="12" width="11" height="1" fill="#808080"/>
</svg>
<svg style="position:absolute;left:1235px;top:3px" width="11" height="10" viewBox="0 0 11 10"><path d="M2 2L9 8M9 2L2 8" stroke="#000" stroke-width="1.2"/></svg>
<div class="t" style="left:6.5px;top:857px;font-size:12px;line-height:14px;color:#000033">Oct</div>
<div class="t" style="left:38.5px;top:857px;font-size:12px;line-height:14px;color:#000033">Mar</div>
<div class="t" style="left:71.5px;top:857px;font-size:12px;line-height:14px;color:#000033">Jul</div>
<div class="t" style="left:104.5px;top:857px;font-size:12px;line-height:14px;color:#000033">Nov</div>
<div class="t" style="left:137.5px;top:857px;font-size:12px;line-height:14px;color:#000033">Mar</div>
<div class="t" style="left:170.5px;top:857px;font-size:12px;line-height:14px;color:#000033">Jul</div>
<div class="t" style="left:203.5px;top:857px;font-size:12px;line-height:14px;color:#000033">Nov</div>
<div class="t" style="left:235.5px;top:857px;font-size:12px;line-height:14px;color:#000033">Mar</div>
<div class="t" style="left:267.5px;top:857px;font-size:12px;line-height:14px;color:#000033">Jul</div>
<div class="t" style="left:301.5px;top:857px;font-size:12px;line-height:14px;color:#000033">Nov</div>
<div class="t" style="left:333.5px;top:857px;font-size:12px;line-height:14px;color:#000033">Mar</div>
<div class="t" style="left:365.5px;top:857px;font-size:12px;line-height:14px;color:#000033">Jul</div>
<div class="t" style="left:399.5px;top:857px;font-size:12px;line-height:14px;color:#000033">Nov</div>
<div class="t" style="left:439.5px;top:857px;font-size:12px;line-height:14px;color:#000033">Abr</div>
<div class="t" style="left:471.5px;top:857px;font-size:12px;line-height:14px;color:#000033">Ago</div>
<div class="t" style="left:505.5px;top:857px;font-size:12px;line-height:14px;color:#000033">Dic</div>
<div class="t" style="left:536.5px;top:857px;font-size:12px;line-height:14px;color:#000033">Abr</div>
<div class="t" style="left:569.5px;top:857px;font-size:12px;line-height:14px;color:#000033">Ago</div>
<div class="t" style="left:602.5px;top:857px;font-size:12px;line-height:14px;color:#000033">Dic</div>
<div class="t" style="left:635.5px;top:857px;font-size:12px;line-height:14px;color:#000033">Abr</div>
<div class="t" style="left:668.5px;top:857px;font-size:12px;line-height:14px;color:#000033">Ago</div>
<div class="t" style="left:701.5px;top:857px;font-size:12px;line-height:14px;color:#000033">Dic</div>
<div class="t" style="left:735.5px;top:857px;font-size:12px;line-height:14px;color:#000033">Abr</div>
<div class="t" style="left:767.5px;top:857px;font-size:12px;line-height:14px;color:#000033">Ago</div>
<div class="t" style="left:801.5px;top:857px;font-size:12px;line-height:14px;color:#000033">Dic</div>
<div class="t" style="left:832.5px;top:857px;font-size:12px;line-height:14px;color:#000033">Abr</div>
<div class="t" style="left:865.5px;top:857px;font-size:12px;line-height:14px;color:#000033">Ago</div>
<div class="t" style="left:899.5px;top:857px;font-size:12px;line-height:14px;color:#000033">Dic</div>
<div class="t" style="left:931.5px;top:857px;font-size:12px;line-height:14px;color:#000033">Abr</div>
<div class="t" style="left:964.5px;top:857px;font-size:12px;line-height:14px;color:#000033">Ago</div>
<div class="t" style="left:997.5px;top:857px;font-size:12px;line-height:14px;color:#000033">Dic</div>
<div class="t" style="left:1029.5px;top:857px;font-size:12px;line-height:14px;color:#000033">Abr</div>
<div class="t" style="left:1062.5px;top:857px;font-size:12px;line-height:14px;color:#000033">Ago</div>
<div class="t" style="left:1095.5px;top:857px;font-size:12px;line-height:14px;color:#000033">Dic</div>
<div class="t" style="left:1129.5px;top:857px;font-size:12px;line-height:14px;color:#000033">Abr</div>
<div class="t" style="left:1162.5px;top:857px;font-size:12px;line-height:14px;color:#000033">Ago</div>
<div class="t" style="left:1192px;top:55.0px;font-size:12px;line-height:16px;color:#0a0a8c">22,00</div>
<div class="t" style="left:1192px;top:69.6px;font-size:12px;line-height:16px;color:#0a0a8c">21,00</div>
<div class="t" style="left:1192px;top:100.9px;font-size:12px;line-height:16px;color:#0a0a8c">19,00</div>
<div class="t" style="left:1192px;top:117.8px;font-size:12px;line-height:16px;color:#0a0a8c">18,00</div>
<div class="t" style="left:1192px;top:135.7px;font-size:12px;line-height:16px;color:#0a0a8c">17,00</div>
<div class="t" style="left:1192px;top:154.6px;font-size:12px;line-height:16px;color:#0a0a8c">16,00</div>
<div class="t" style="left:1192px;top:174.8px;font-size:12px;line-height:16px;color:#0a0a8c">15,00</div>
<div class="t" style="left:1192px;top:196.4px;font-size:12px;line-height:16px;color:#0a0a8c">14,00</div>
<div class="t" style="left:1192px;top:219.6px;font-size:12px;line-height:16px;color:#0a0a8c">13,00</div>
<div class="t" style="left:1192px;top:244.7px;font-size:12px;line-height:16px;color:#0a0a8c">12,00</div>
<div class="t" style="left:1192px;top:271.9px;font-size:12px;line-height:16px;color:#0a0a8c">11,00</div>
<div class="t" style="left:1192px;top:301.7px;font-size:12px;line-height:16px;color:#0a0a8c">10,00</div>
<div class="t" style="left:1192px;top:334.7px;font-size:12px;line-height:16px;color:#0a0a8c">9,00</div>
<div class="t" style="left:1192px;top:371.5px;font-size:12px;line-height:16px;color:#0a0a8c">8,00</div>
<div class="t" style="left:1192px;top:413.3px;font-size:12px;line-height:16px;color:#0a0a8c">7,00</div>
<div class="t" style="left:1192px;top:461.5px;font-size:12px;line-height:16px;color:#0a0a8c">6,00</div>
<div class="t" style="left:1192px;top:518.6px;font-size:12px;line-height:16px;color:#0a0a8c">5,00</div>
<div class="t" style="left:1192px;top:588.4px;font-size:12px;line-height:16px;color:#0a0a8c">4,00</div>
<div class="t" style="left:1192px;top:678.4px;font-size:12px;line-height:16px;color:#0a0a8c">3,00</div>
<div class="t" style="left:1192px;top:805.3px;font-size:12px;line-height:16px;color:#0a0a8c">2,00</div>
<div class="t" style="left:1192px;top:84.8px;font-size:12px;line-height:16px;color:#0a0a8c">20,00</div>
<div style="position:absolute;left:1193px;top:80px;width:33px;height:14px;background:#ffffc8;border:1px solid #000"></div>
<div class="t" style="left:1195.5px;top:81px;font-size:12px;line-height:16px;color:#000">20,26</div>
<svg style="position:absolute;left:1188px;top:86px" width="4" height="5" viewBox="1188 86 4 5" shape-rendering="crispEdges"><path d="M1188 88h1v1h-1zM1189 87h1v1h-1zM1189 89h1v1h-1zM1190 86h1v1h-1zM1190 90h1v1h-1zM1190 88h2v1h-2z" fill="#000"/></svg>
<div style="position:absolute;left:74px;top:828px;width:173px;height:15px;background:#fff"></div>
<div class="t" id="wm" style="left:75px;top:827px;font-size:15px;font-weight:bold;line-height:16px;color:#a4a8cc;letter-spacing:0.3px;transform:scaleX(1.08);transform-origin:0 0">www.visualchart.com</div>
</body></html>
